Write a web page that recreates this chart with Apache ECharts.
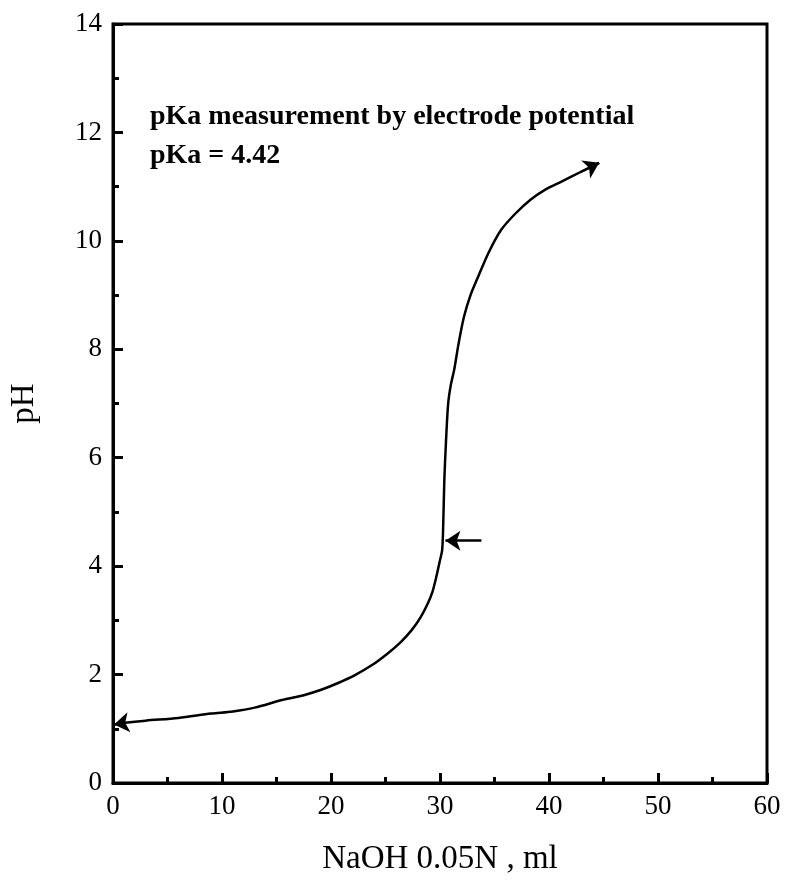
<!DOCTYPE html>
<html>
<head>
<meta charset="utf-8">
<script src="https://cdn.jsdelivr.net/npm/echarts@6/dist/echarts.min.js"></script>
<style>
html,body{margin:0;padding:0;background:#fff;}
#chart{width:787px;height:889px;}
</style>
</head>
<body>
<div id="chart"></div>
<script>
// Titration curve: NaOH volume (ml) vs pH
const naohMl = [0.1, 1.1, 3, 6, 9, 11, 13, 15.5, 17.5, 19.1, 20.6, 22.2, 23.8, 25.2, 26.4, 27.4, 28.2, 28.9, 29.3, 29.6, 30.0, 30.2, 30.3, 30.4, 30.55, 30.75, 31.0, 31.3, 31.7, 32.2, 32.8, 33.5, 34.5, 35.6, 36.9, 38.3, 39.7, 41.1, 42.9, 44.6];
const pHValues = [1.08, 1.11, 1.15, 1.2, 1.28, 1.32, 1.39, 1.53, 1.62, 1.72, 1.84, 1.99, 2.18, 2.39, 2.6, 2.82, 3.05, 3.32, 3.52, 3.75, 4.11, 4.3, 4.8, 5.6, 6.3, 7.0, 7.35, 7.62, 8.1, 8.6, 9.0, 9.34, 9.8, 10.2, 10.5, 10.76, 10.95, 11.09, 11.27, 11.44];
// pKa marker arrow (from tail to tip)
const pkaArrowX = [33.8, 30.5];
const pkaArrowY = [4.47, 4.47];
const xTicks = [0, 10, 20, 30, 40, 50, 60];
const yTicks = [0, 2, 4, 6, 8, 10, 12, 14];
const annotation1 = 'pKa measurement by electrode potential';
const annotation2 = 'pKa = 4.42';
const xTitle = 'NaOH 0.05N , ml';
const yTitle = 'pH';

const curve = naohMl.map((x, i) => [x, pHValues[i]]);
const n = curve.length;
const startArrow = [curve[1], curve[0]];
const endArrow = [curve[n - 2], curve[n - 1]];
const pkaArrow = [[pkaArrowX[0], pkaArrowY[0]], [pkaArrowX[1], pkaArrowY[1]]];

const font = '"Liberation Serif", "Times New Roman", serif';
const chart = echarts.init(document.getElementById('chart'));
chart.setOption({
  animation: false,
  backgroundColor: '#fff',
  grid: {left: 111, right: 20, top: 24, bottom: 106, show: true, borderColor: '#000', borderWidth: 3, backgroundColor: 'transparent'},
  xAxis: {
    type: 'value', min: xTicks[0], max: xTicks[xTicks.length - 1], interval: 10,
    name: xTitle, nameLocation: 'middle', nameGap: 60,
    nameTextStyle: {fontFamily: font, fontSize: 33, color: '#000'},
    axisLine: {show: true, onZero: false, lineStyle: {color: '#000', width: 3}},
    axisTick: {show: true, inside: true, length: 10, lineStyle: {color: '#000', width: 3}},
    minorTick: {show: true, splitNumber: 2, length: 6, lineStyle: {color: '#000', width: 3}},
    splitLine: {show: false},
    axisLabel: {fontFamily: font, fontSize: 27, color: '#000', margin: 10}
  },
  yAxis: {
    type: 'value', min: yTicks[0], max: yTicks[yTicks.length - 1], interval: 2,
    name: yTitle, nameLocation: 'middle', nameGap: 72, nameRotate: 90,
    nameTextStyle: {fontFamily: font, fontSize: 33, color: '#000'},
    axisLine: {show: true, onZero: false, lineStyle: {color: '#000', width: 3}},
    axisTick: {show: true, inside: true, length: 10, lineStyle: {color: '#000', width: 3}},
    minorTick: {show: true, splitNumber: 2, length: 6, lineStyle: {color: '#000', width: 3}},
    splitLine: {show: false},
    axisLabel: {fontFamily: font, fontSize: 27, color: '#000', margin: 11}
  },
  graphic: [
    {type: 'text', left: 150, top: 103, style: {text: annotation1, fontFamily: font, fontWeight: 'bold', fontSize: 28, fill: '#000'}},
    {type: 'text', left: 150, top: 142, style: {text: annotation2, fontFamily: font, fontWeight: 'bold', fontSize: 28, fill: '#000'}}
  ],
  series: [
    {
      type: 'line', data: curve, showSymbol: false, symbol: 'none',
      smooth: 0.3,
      lineStyle: {color: '#000', width: 2.5, join: 'round'}
    },
    {
      type: 'lines', coordinateSystem: 'cartesian2d',
      symbol: ['none', 'arrow'], symbolSize: 15,
      itemStyle: {color: '#000', opacity: 1},
      lineStyle: {color: '#000', width: 2.5, curveness: 0, opacity: 1},
      data: [{coords: startArrow}, {coords: endArrow}, {coords: pkaArrow}]
    }
  ]
});
</script>
</body>
</html>
